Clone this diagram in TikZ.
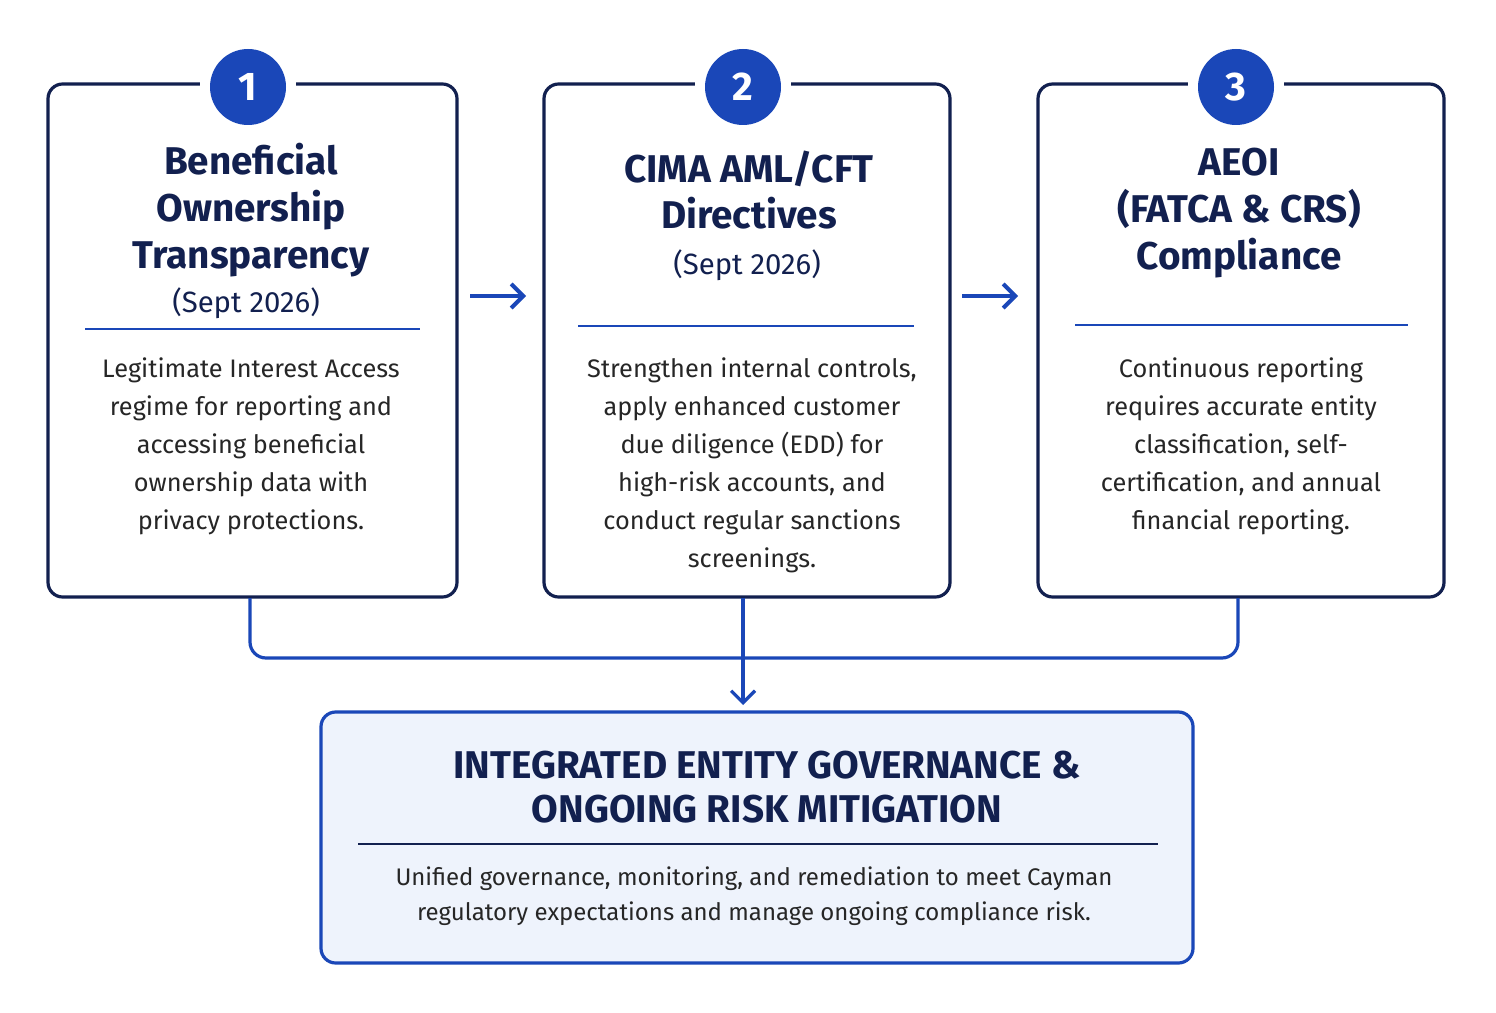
\documentclass[tikz,border=0pt]{standalone}
\usepackage{fontspec}
\setmainfont{Fira Sans}
\usetikzlibrary{arrows.meta}
\definecolor{navy}{HTML}{12204F}
\definecolor{blu}{HTML}{1A47B8}
\definecolor{lightb}{HTML}{EEF3FC}
\begin{document}
\begin{tikzpicture}[x=0.75pt,y=-0.75pt,
  box/.style={draw=navy,line width=2.4pt,rounded corners=11pt},
  num/.style={circle,fill=blu,minimum size=57pt,inner sep=0pt,text=white,font=\fontsize{30}{30}\selectfont\bfseries},
  ttl/.style={text=navy,align=center,font=\fontsize{29}{35}\selectfont\bfseries},
  sub/.style={text=navy,align=center,font=\fontsize{22}{26}\selectfont},
  body/.style={text=black!85,align=center,font=\fontsize{19}{28.5}\selectfont},
  sep/.style={draw=blu,line width=1.6pt},
  conn/.style={draw=blu,line width=2.4pt,rounded corners=12pt},
  arr/.style={draw=blu,line width=3pt,-{Straight Barb[length=9pt,width=18pt]}}]
\fill[white!96!blue!2] (0,0) rectangle (1496,1013);
\useasboundingbox (0,0) rectangle (1496,1013);
% boxes
\draw[box,fill=white] (48,84) rectangle (457,597);
\draw[box,fill=white] (544,84) rectangle (950,597);
\draw[box,fill=white] (1038,84) rectangle (1444,597);
\fill[white] (200,80) rectangle (296,90);
\fill[white] (695,80) rectangle (791,90);
\fill[white] (1188,80) rectangle (1284,90);
\node[num] (n1) at (248,87) {1};
\node[num] (n2) at (743,87) {2};
\node[num] (n3) at (1236,87) {3};
% titles
\node[ttl] (t1) at (251,210) {Beneficial\\Ownership\\Transparency};
\node[sub] (s1) at (246,303) {(Sept 2026)};
\node[ttl] (t2) at (749,190) {CIMA AML/CFT\\Directives};
\node[sub] (s2) at (747,265) {(Sept 2026)};
\node[ttl] (t3) at (1239,213) {AEOI\\(FATCA \& CRS)\\Compliance};
\coordinate (a1) at (85,329); \coordinate (b1) at (420,329);
\coordinate (a2) at (578,326); \coordinate (b2) at (914,326);
\coordinate (a3) at (1075,325); \coordinate (b3) at (1408,325);
\draw[sep] (a1) -- (b1); \draw[sep] (a2) -- (b2); \draw[sep] (a3) -- (b3);
\node[body] (d1) at (251,446) {Legitimate Interest Access\\regime for reporting and\\accessing beneficial\\ownership data with\\privacy protections.};
\node[body] (d2) at (752,465) {Strengthen internal controls,\\apply enhanced customer\\due diligence (EDD) for\\high-risk accounts, and\\conduct regular sanctions\\screenings.};
\node[body] (d3) at (1241,446) {Continuous reporting\\requires accurate entity\\classification, self-\\certification, and annual\\financial reporting.};
% arrows between
\coordinate (p1) at (470,296); \coordinate (q1) at (526,296);
\coordinate (p2) at (962,296); \coordinate (q2) at (1018,296);
\draw[arr] (p1) -- (q1); \draw[arr] (p2) -- (q2);
% bottom box
\draw[draw=blu,line width=2.4pt,rounded corners=11pt,fill=lightb] (321,712) rectangle (1193,963);
\node[text=navy,align=center,font=\fontsize{29}{33}\selectfont\bfseries] (bt) at (767,787) {INTEGRATED ENTITY GOVERNANCE \&\\ONGOING RISK MITIGATION};
\coordinate (a4) at (358,844); \coordinate (b4) at (1158,844);
\draw[draw=navy,line width=1.6pt] (a4) -- (b4);
\node[text=black!85,align=center,font=\fontsize{18}{26}\selectfont] (bd) at (754,896) {Unified governance, monitoring, and remediation to meet Cayman\\regulatory expectations and manage ongoing compliance risk.};
% connectors
\coordinate (c1) at (250,598); \coordinate (c3) at (1238,598);
\coordinate (c2) at (743,598); \coordinate (e2) at (743,705);
\draw[conn] (c1) -- (250,658) -- (1238,658) -- (c3);
\draw[draw=blu,line width=2.4pt,-{Straight Barb[length=9pt,width=18pt]}] (c2) -- (e2);
\end{tikzpicture}
\end{document}
